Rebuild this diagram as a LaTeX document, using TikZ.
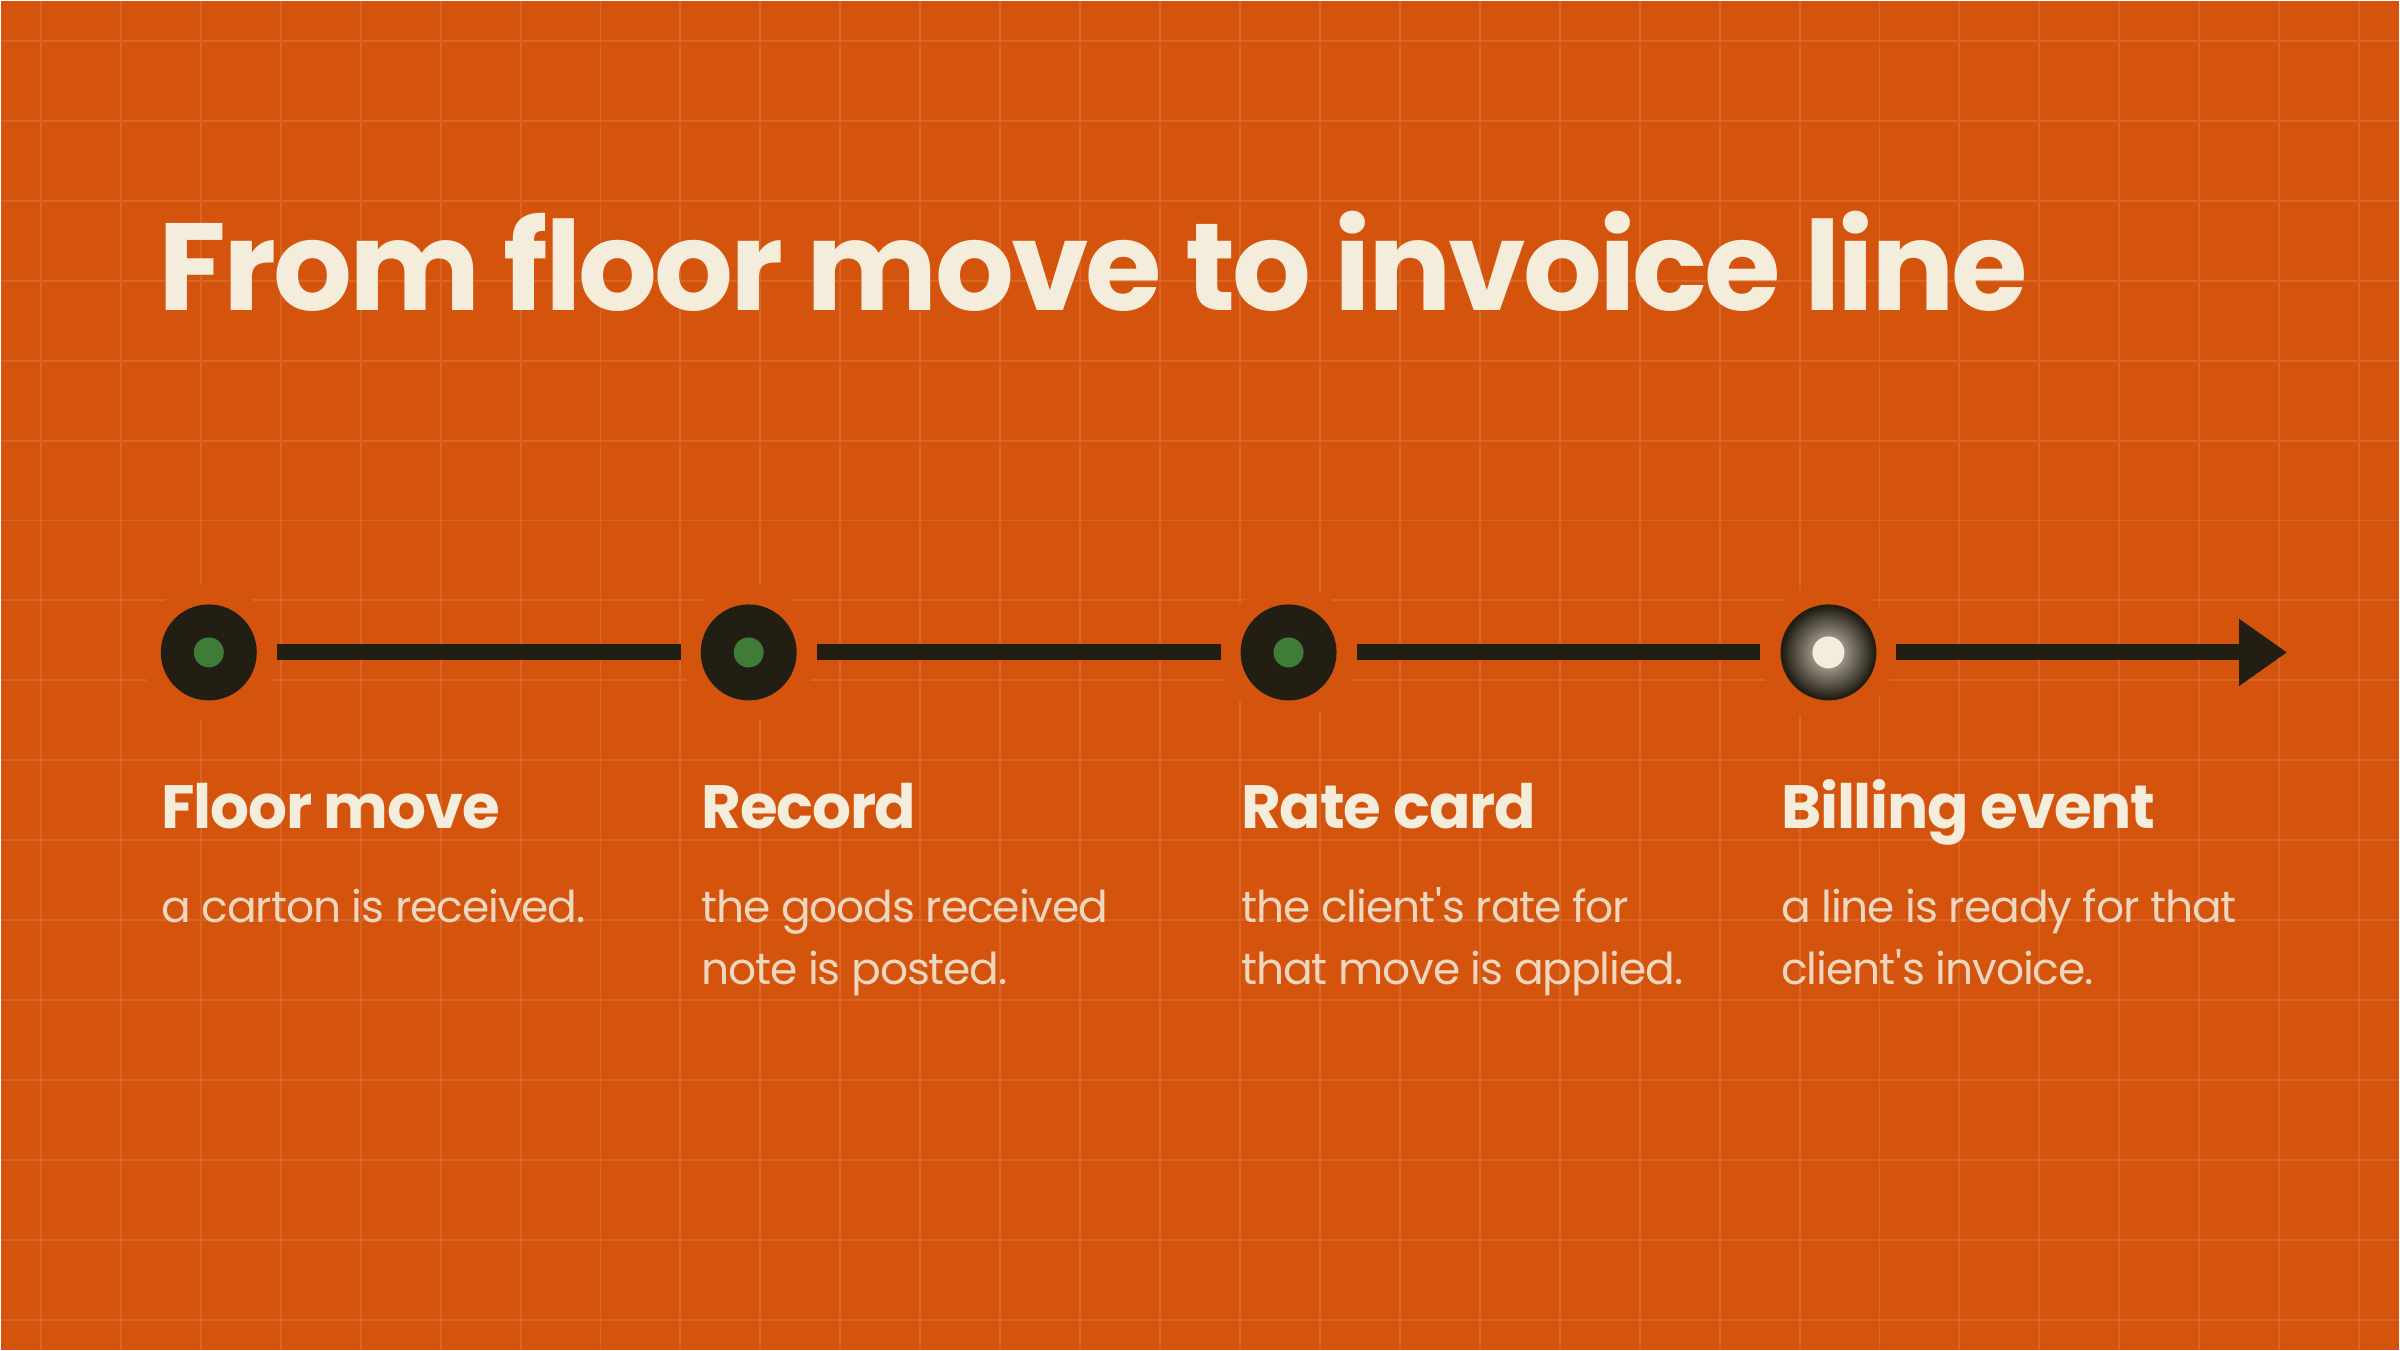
\documentclass[tikz,border=0pt]{standalone}
\usepackage{fontspec}
\setmainfont{Poppins}
\usepackage{xcolor}
\usetikzlibrary{positioning, arrows.meta}

\definecolor{bg}{HTML}{D4540E}
\definecolor{ink}{HTML}{231E14}
\definecolor{leaf}{HTML}{3E7C38}
\definecolor{cream}{HTML}{F4EDDC}

\begin{document}
\begin{tikzpicture}[x=0.01cm,y=0.01cm,node distance=4.44cm,>=Latex]
\tikzset{gridline/.style={cream!12!bg,line width=0.55pt},
  dot/.style={circle,fill=ink,minimum size=0.96cm,inner sep=0,outer sep=0},
  core/.style={circle,fill=leaf,minimum size=0.30cm,inner sep=0,outer sep=0},
  link/.style={draw=ink,line width=4.55pt,shorten <=0.2cm,shorten >=0.2cm},
  head/.style={font=\addfontfeatures{LetterSpace=-2}\fontsize{17.4}{20}\selectfont\bfseries,text=cream,inner sep=0,anchor=base west},
  body/.style={font=\addfontfeatures{LetterSpace=-2.5}\fontsize{12.5}{17.64}\selectfont,text=cream!86!bg,inner sep=0,anchor=base west,align=left}}
% background and grid
\fill[bg] (0,0) rectangle (2400,1350);
\foreach \x in {40,120,...,2360} \draw[gridline] (\x,0) -- (\x,1350);
\foreach \y in {30,110,...,1310} \draw[gridline] (0,\y) -- (2400,\y);
\foreach \x in {208,748,1288,1828} \fill[bg] (\x,698) circle (68);

\node[font=\addfontfeatures{LetterSpace=-2.5}\fontsize{35.3}{40}\selectfont\bfseries,text=cream,inner sep=0,anchor=base west] (title) at (157,1040) {From floor move to invoice line};

% steps
\node[dot] (d1) at (208,698) {};
\node[dot,right=of d1] (d2) {};
\node[dot,right=of d2] (d3) {};
\node[dot,right=of d3] (d4) {};
\node[core] at (d1) {};
\node[core] at (d2) {};
\node[core] at (d3) {};
\begin{scope}
\clip (d4) circle (48);
\shade[inner color=cream!85!ink,outer color=ink] (d4) circle (46);
\end{scope}
\node[core,fill=cream,minimum size=0.32cm] at (d4) {};
\coordinate (end) at (2288,698);

\draw[link] (d1) -- (d2);
\draw[link] (d2) -- (d3);
\draw[link] (d3) -- (d4);
\draw[link,shorten >=0pt,-{Triangle[length=13.7pt,width=18.2pt]}] (d4) -- (end);

\node[head] (h1) at ([yshift=-1.76cm]d1.west) {Floor move};
\node[head] (h2) at ([yshift=-1.76cm]d2.west) {Record};
\node[head] (h3) at ([yshift=-1.76cm]d3.west) {Rate card};
\node[head] (h4) at ([yshift=-1.76cm]d4.west) {Billing event};

% two-line texts sit on their last baseline
\node[body] (b1) at ([yshift=-0.94cm]h1.base west) {a carton is received.};
\node[body] (b2) at ([yshift=-1.56cm]h2.base west) {the goods received\\note is posted.};
\node[body] (b3) at ([yshift=-1.56cm]h3.base west) {the client\textquotesingle s rate for\\that move is applied.};
\node[body] (b4) at ([yshift=-1.56cm]h4.base west) {a line is ready for that\\client\textquotesingle s invoice.};
\end{tikzpicture}
\end{document}
